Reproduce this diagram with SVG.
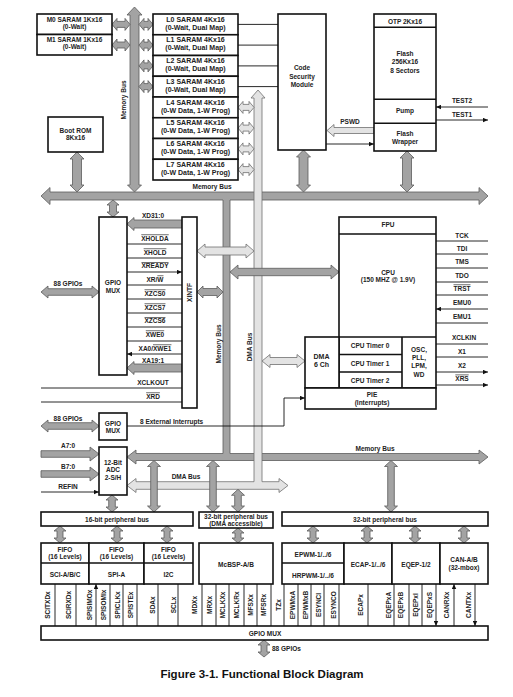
<svg xmlns="http://www.w3.org/2000/svg" width="513" height="697" viewBox="0 0 513 697">
<defs>
<style>
.b{fill:#fff;stroke:#111;stroke-width:1.6}
.n{fill:none;stroke:#111;stroke-width:1.6}
.g{fill:#a3a3a3;stroke:#5c5c5c;stroke-width:0.8}
.l{fill:#e3e3e3;stroke:#707070;stroke-width:0.8}
.w{stroke:#111;stroke-width:0.9;fill:none}
.e{marker-end:url(#ah)}
.d{marker-start:url(#ah);marker-end:url(#ah)}
text{font-family:"Liberation Sans",Arial,sans-serif;font-size:6.5px;font-weight:bold;fill:#222;text-anchor:middle}
.m{font-size:7px}
.s{text-anchor:start}
.o{text-decoration:overline}
.cap{font-size:11.5px;fill:#111}
</style>
<marker id="ah" viewBox="0 0 8 8" refX="8" refY="4" markerWidth="5" markerHeight="5" orient="auto-start-reverse" markerUnits="userSpaceOnUse"><path d="M0,0.5L8,4L0,7.5z" fill="#111"/></marker>
</defs>
<rect width="513" height="697" fill="#fff"/>
<g id="connectors">
<polygon class="g" points="41,196 50,187.5 50,192 479,192 479,187.5 488,196 479,204.5 479,200 230,200 230,453.5 479,453.5 479,450 488,457 479,464 479,460.5 136,460.5 136,464 127,457 136,450 136,453.5 223,453.5 223,200 50,200 50,204.5"/>
<polygon class="g" points="134.5,7 142,15 139,15 139,185 141.5,185 134.5,192 127.5,185 130,185 130,15 127,15"/>
<polygon class="g" points="77,152 84,159 81.5,159 81.5,185 84,185 77,192 70,185 72.5,185 72.5,159 70,159"/>
<polygon class="g" points="303.5,150 310.5,157 308,157 308,185 310.5,185 303.5,192 296.5,185 299,185 299,157 296.5,157"/>
<polygon class="g" points="407,151 414,158 411.5,158 411.5,185 414,185 407,192 400,185 402.5,185 402.5,158 400,158"/>
<polygon class="g" points="112,24.4 117,18.4 117,21.4 125,21.4 125,18.4 130,24.4 125,30.4 125,27.4 117,27.4 117,30.4"/>
<polygon class="g" points="112,45 117,39 117,42 125,42 125,39 130,45 125,51 125,48 117,48 117,51"/>
<polygon class="g" points="139,24.4 144,18.4 144,21.4 148,21.4 148,18.4 153,24.4 148,30.4 148,27.4 144,27.4 144,30.4"/>
<polygon class="g" points="139,45.1 144,39.1 144,42.1 148,42.1 148,39.1 153,45.1 148,51.1 148,48.1 144,48.1 144,51.1"/>
<polygon class="g" points="139,65.9 144,59.9 144,62.9 148,62.9 148,59.9 153,65.9 148,71.9 148,68.9 144,68.9 144,71.9"/>
<polygon class="g" points="139,86.6 144,80.6 144,83.6 148,83.6 148,80.6 153,86.6 148,92.6 148,89.6 144,89.6 144,92.6"/>
<polygon class="g" points="113,200 119,205 116.5,205 116.5,212 119,212 113,217 107,212 109.5,212 109.5,205 107,205"/>
<polygon class="g" points="41,292 48,286 48,288.7 92,288.7 92,286 99,292 92,298 92,295.3 48,295.3 48,298"/>
<polygon class="g" points="41,426 48,420 48,422.7 92,422.7 92,420 99,426 92,432 92,429.3 48,429.3 48,432"/>
<polygon class="g" points="127,224 134,217.5 134,220 182,220 182,228 134,228 134,230.5"/>
<polygon class="g" points="127,368 134,361.5 134,364 182,364 182,372 134,372 134,374.5"/>
<polygon class="g" points="197,292 203,286 203,288.5 217,288.5 217,286 223,292 217,298 217,295.5 203,295.5 203,298"/>
<polygon class="g" points="41,450.7 90,450.7 90,447 99,454 90,461 90,457.3 41,457.3"/>
<polygon class="g" points="41,470.7 90,470.7 90,467 99,474 90,481 90,477.3 41,477.3"/>
<polygon class="l" points="258,90 265,98 262,98 262,481.7 279,481.7 279,478.5 288,485.5 279,492.5 279,489.3 136,489.3 136,492.5 127,485.5 136,478.5 136,481.7 254,481.7 254,98 251,98"/>
<polygon class="l" points="238,107.4 243,101.4 243,104.4 249,104.4 249,101.4 254,107.4 249,113.4 249,110.4 243,110.4 243,113.4"/>
<polygon class="l" points="238,128.1 243,122.1 243,125.1 249,125.1 249,122.1 254,128.1 249,134.1 249,131.1 243,131.1 243,134.1"/>
<polygon class="l" points="238,148.9 243,142.9 243,145.9 249,145.9 249,142.9 254,148.9 249,154.9 249,151.9 243,151.9 243,154.9"/>
<polygon class="l" points="238,169.6 243,163.6 243,166.6 249,166.6 249,163.6 254,169.6 249,175.6 249,172.6 243,172.6 243,175.6"/>
<polygon class="l" points="197,251 205,244 205,247 246,247 246,244 254,251 246,258 246,255 205,255 205,258"/>
<polygon class="l" points="262,361 270,354.5 270,357.5 297,357.5 297,354.5 305,361 297,367.5 297,364.5 270,364.5 270,367.5"/>
<polygon class="l" points="327,130.5 334,124.5 334,127.5 374,127.5 374,133.5 334,133.5 334,136.5"/>
<polygon class="g" points="230,272 238,265 238,268.3 331,268.3 331,265 339,272 331,279 331,275.7 238,275.7 238,279"/>
<polygon class="g" points="112,495 118,500 115.3,500 115.3,507 118,507 112,512 106,507 108.7,507 108.7,500 106,500"/>
<polygon class="g" points="154,460.5 160.5,466.5 157.3,466.5 157.3,506 160.5,506 154,512 147.5,506 150.7,506 150.7,466.5 147.5,466.5"/>
<polygon class="g" points="213,460.5 219.5,466.5 216.3,466.5 216.3,506 219.5,506 213,512 206.5,506 209.7,506 209.7,466.5 206.5,466.5"/>
<polygon class="g" points="238,489.3 244.5,495.3 241.3,495.3 241.3,506 244.5,506 238,512 231.5,506 234.7,506 234.7,495.3 231.5,495.3"/>
<polygon class="g" points="391,460.5 397.5,466.5 394.3,466.5 394.3,506 397.5,506 391,512 384.5,506 387.7,506 387.7,466.5 384.5,466.5"/>
<polygon class="g" points="60,526 66,531 63,531 63,538 66,538 60,543 54,538 57,538 57,531 54,531"/>
<polygon class="g" points="117,526 123,531 120,531 120,538 123,538 117,543 111,538 114,538 114,531 111,531"/>
<polygon class="g" points="167,526 173,531 170,531 170,538 173,538 167,543 161,538 164,538 164,531 161,531"/>
<polygon class="g" points="238,528 244,533 241,533 241,538 244,538 238,543 232,538 235,538 235,533 232,533"/>
<polygon class="g" points="313,526 319,531 316,531 316,538 319,538 313,543 307,538 310,538 310,531 307,531"/>
<polygon class="g" points="367,526 373,531 370,531 370,538 373,538 367,543 361,538 364,538 364,531 361,531"/>
<polygon class="g" points="415,526 421,531 418,531 418,538 421,538 415,543 409,538 412,538 412,531 409,531"/>
<polygon class="g" points="464,526 470,531 467,531 467,538 470,538 464,543 458,538 461,538 461,531 458,531"/>
<polygon class="g" points="264,640 270,645 267,645 267,652 270,652 264,657 258,652 261,652 261,645 258,645"/>
<path class="w e" d="M278,24.4H238M278,45.1H238M278,65.9H238M278,86.6H238M326,144H374"/>
<path class="w d" d="M436,107H488M436,120H488"/>
<path class="w e" d="M127,244H182M127,258H182M127,272H182"/>
<path class="w e" d="M182,285H127M182,299H127M182,313H127M182,327H127M182,341H127M182,354H127"/>
<path class="w e" d="M182,388H41M182,402H41M41,492H99"/>
<path class="w e" d="M127,426H284V398H305"/>
<path class="w e" d="M488,241H436M488,254H436M488,268H436M436,282H488M488,295H436M488,344H436M488,357H436M436,372H488"/>
<path class="w d" d="M436,309H488M436,323H488M436,385H488"/>
<path class="w e" d="M55,626V584M76,626V584M284,626V584M324,626V584M368,626V584M394,626V584M409,626V584M454,626V584"/>
<path class="w e" d="M298,584V626M311,584V626M339,584V626M475,584V626"/>
<path class="w d" d="M96,584V626M110,584V626M123,584V626M137,584V626M158,584V626M178,584V626M202,584V626M216,584V626M229,584V626M244,584V626M257,584V626M271,584V626M422,584V626M436,584V626"/>
</g>
<g id="bus-labels">
<text transform="translate(125.5,100) rotate(-90)">Memory Bus</text>
<text x="212" y="188.5">Memory Bus</text>
<text transform="translate(220.5,344) rotate(-90)">Memory Bus</text>
<text transform="translate(251.5,347) rotate(-90)">DMA Bus</text>
<text x="375" y="450.5">Memory Bus</text>
<text x="186" y="478.5">DMA Bus</text>
<text x="350" y="124">PSWD</text>
<text x="462" y="102.5">TEST2</text>
<text x="462" y="116.5">TEST1</text>
<text x="68" y="285.5">88 GPIOs</text>
<text x="68" y="420.5">88 GPIOs</text>
<text x="68" y="447.5">A7:0</text>
<text x="68" y="468.5">B7:0</text>
<text x="68" y="488.5">REFIN</text>
<text class="s" x="140" y="423.5">8 External Interrupts</text>
<text x="153" y="217.5">XD31:0</text>
<text x="155" y="240.5" class="o">XHOLDA</text>
<text x="155" y="254.5" class="o">XHOLD</text>
<text x="155" y="268" class="o">XREADY</text>
<text x="155" y="281.5">XR/<tspan class="o">W</tspan></text>
<text x="155" y="295.5" class="o">XZCS0</text>
<text x="155" y="309.5" class="o">XZCS7</text>
<text x="155" y="323" class="o">XZCS6</text>
<text x="155" y="336.5" class="o">XWE0</text>
<text x="155" y="350.5">XA0/<tspan class="o">XWE1</tspan></text>
<text x="153" y="362.5">XA19:1</text>
<text x="153" y="384.5">XCLKOUT</text>
<text x="153" y="398.5" class="o">XRD</text>
<text x="462" y="237.5">TCK</text>
<text x="462" y="250.5">TDI</text>
<text x="462" y="263.5">TMS</text>
<text x="462" y="277.5">TDO</text>
<text x="462" y="290.5" class="o">TRST</text>
<text x="462" y="304.5">EMU0</text>
<text x="462" y="318.5">EMU1</text>
<text x="464" y="339.5">XCLKIN</text>
<text x="462" y="354">X1</text>
<text x="462" y="368">X2</text>
<text x="462" y="380.6" class="o">XRS</text>
<text class="s" x="272" y="650.5">88 GPIOs</text>
<g id="pin-labels">
<text transform="translate(49.5,605) rotate(-90)">SCITXDx</text>
<text transform="translate(70.5,605) rotate(-90)">SCIRXDx</text>
<text transform="translate(91.5,605) rotate(-90)">SPISIMOx</text>
<text transform="translate(105.5,605) rotate(-90)">SPISOMIx</text>
<text transform="translate(119.5,605) rotate(-90)">SPICLKx</text>
<text transform="translate(132.5,605) rotate(-90)">SPISTEx</text>
<text transform="translate(154.5,605) rotate(-90)">SDAx</text>
<text transform="translate(175.5,605) rotate(-90)">SCLx</text>
<text transform="translate(196.5,605) rotate(-90)">MDXx</text>
<text transform="translate(211.5,605) rotate(-90)">MRXx</text>
<text transform="translate(224.5,605) rotate(-90)">MCLKXx</text>
<text transform="translate(238.5,605) rotate(-90)">MCLKRx</text>
<text transform="translate(252.5,605) rotate(-90)">MFSXx</text>
<text transform="translate(265.5,605) rotate(-90)">MFSRx</text>
<text transform="translate(280.5,605) rotate(-90)">TZx</text>
<text transform="translate(294.5,605) rotate(-90)">EPWMxA</text>
<text transform="translate(307.5,605) rotate(-90)">EPWMxB</text>
<text transform="translate(320.5,605) rotate(-90)">ESYNCI</text>
<text transform="translate(335.5,605) rotate(-90)">ESYNCO</text>
<text transform="translate(362.5,605) rotate(-90)">ECAPx</text>
<text transform="translate(390.5,605) rotate(-90)">EQEPxA</text>
<text transform="translate(402.5,605) rotate(-90)">EQEPxB</text>
<text transform="translate(417.5,605) rotate(-90)">EQEPxI</text>
<text transform="translate(431.5,605) rotate(-90)">EQEPxS</text>
<text transform="translate(448.5,605) rotate(-90)">CANRXx</text>
<text transform="translate(470.5,605) rotate(-90)">CANTXx</text>
</g>
</g>
<g id="m0"><rect class="b" x="37" y="14" width="75" height="20.5"/><text x="74.5" y="21.6">M0 SARAM 1Kx16</text><text x="74.5" y="28.6">(0-Wait)</text></g>
<g id="m1"><rect class="b" x="37" y="34.5" width="75" height="20.5"/><text x="74.5" y="42.3">M1 SARAM 1Kx16</text><text x="74.5" y="49.3">(0-Wait)</text></g>
<g id="l0"><rect class="b" x="153" y="14" width="85" height="20.75"/><text class="m" x="195.5" y="21.6">L0 SARAM 4Kx16</text><text class="m" x="195.5" y="29.6">(0-Wait, Dual Map)</text></g>
<g id="l1"><rect class="b" x="153" y="34.75" width="85" height="20.75"/><text class="m" x="195.5" y="42.35">L1 SARAM 4Kx16</text><text class="m" x="195.5" y="50.35">(0-Wait, Dual Map)</text></g>
<g id="l2"><rect class="b" x="153" y="55.5" width="85" height="20.75"/><text class="m" x="195.5" y="63.1">L2 SARAM 4Kx16</text><text class="m" x="195.5" y="71.1">(0-Wait, Dual Map)</text></g>
<g id="l3"><rect class="b" x="153" y="76.25" width="85" height="20.75"/><text class="m" x="195.5" y="83.85">L3 SARAM 4Kx16</text><text class="m" x="195.5" y="91.85">(0-Wait, Dual Map)</text></g>
<g id="l4"><rect class="b" x="153" y="97" width="85" height="20.75"/><text class="m" x="195.5" y="104.6">L4 SARAM 4Kx16</text><text class="m" x="195.5" y="112.6">(0-W Data, 1-W Prog)</text></g>
<g id="l5"><rect class="b" x="153" y="117.75" width="85" height="20.75"/><text class="m" x="195.5" y="125.35">L5 SARAM 4Kx16</text><text class="m" x="195.5" y="133.35">(0-W Data, 1-W Prog)</text></g>
<g id="l6"><rect class="b" x="153" y="138.5" width="85" height="20.75"/><text class="m" x="195.5" y="146.1">L6 SARAM 4Kx16</text><text class="m" x="195.5" y="154.1">(0-W Data, 1-W Prog)</text></g>
<g id="l7"><rect class="b" x="153" y="159.25" width="85" height="20.75"/><text class="m" x="195.5" y="166.85">L7 SARAM 4Kx16</text><text class="m" x="195.5" y="174.85">(0-W Data, 1-W Prog)</text></g>
<g id="csm"><rect class="b" x="278" y="14" width="48" height="136"/><text x="302" y="70">Code</text><text x="302" y="78.5">Security</text><text x="302" y="87">Module</text></g>
<g id="flash"><rect class="b" x="374" y="14" width="62" height="137"/><path class="n" d="M374,27.3H436M374,99.3H436M374,123.3H436"/><text x="405" y="24">OTP 2Kx16</text><text x="405" y="55.5">Flash</text><text x="405" y="64">256Kx16</text><text x="405" y="72.5">8 Sectors</text><text x="405" y="113">Pump</text><text x="405" y="135.5">Flash</text><text x="405" y="144">Wrapper</text></g>
<g id="bootrom"><rect class="b" x="48" y="117" width="55" height="35"/><text x="75.5" y="132.5">Boot ROM</text><text x="75.5" y="140">8Kx16</text></g>
<g id="gpiomux1"><rect class="b" x="99" y="217" width="28" height="158"/><text x="113" y="284.5">GPIO</text><text x="113" y="292.5">MUX</text></g>
<g id="xintf"><rect class="b" x="182" y="217" width="15" height="191"/><text transform="translate(192,292.5) rotate(-90)">XINTF</text></g>
<g id="cpu"><rect class="b" x="339" y="217" width="97" height="171"/><path class="n" d="M339,234H436M339,337H436M402,337V388M339,354.5H402M339,372H402"/><text x="388" y="226.5">FPU</text><text x="388" y="275">CPU</text><text x="388" y="282">(150 MHZ @ 1.9V)</text><text x="370" y="347.5">CPU Timer 0</text><text x="370" y="365.5">CPU Timer 1</text><text x="370" y="383">CPU Timer 2</text><text x="419" y="351.5">OSC,</text><text x="419" y="359.8">PLL,</text><text x="419" y="368.2">LPM,</text><text x="419" y="376.5">WD</text></g>
<g id="dma"><rect class="b" x="305" y="337" width="34" height="51"/><text class="m" x="321.5" y="359.2">DMA</text><text class="m" x="321.5" y="366.8">6 Ch</text></g>
<g id="pie"><rect class="b" x="305" y="388" width="131" height="21"/><text x="372" y="396.5">PIE</text><text x="372" y="404.5">(Interrupts)</text></g>
<g id="gpiomux2"><rect class="b" x="99" y="413" width="28" height="27"/><text x="113" y="425.5">GPIO</text><text x="113" y="432.5">MUX</text></g>
<g id="adc"><rect class="b" x="99" y="447" width="28" height="48"/><text x="113" y="464.5">12-Bit</text><text x="113" y="471.5">ADC</text><text x="113" y="479.5">2-S/H</text></g>
<g id="pbus16"><rect class="b" x="41" y="512" width="152" height="14"/><text x="117" y="521.5">16-bit peripheral bus</text></g>
<g id="pbus32dma"><rect class="b" x="199" y="512" width="74" height="16"/><text x="236" y="518.5">32-bit peripheral bus</text><text x="236" y="525.8">(DMA accessible)</text></g>
<g id="pbus32"><rect class="b" x="282" y="512" width="206" height="14"/><text x="385" y="521.5">32-bit peripheral bus</text></g>
<g id="sci"><rect class="b" x="41" y="543" width="48" height="41"/><path class="n" d="M41,563H89"/><text x="65" y="551.5">FIFO</text><text x="65" y="558.5">(16 Levels)</text><text x="65" y="576.5">SCI-A/B/C</text></g>
<g id="spi"><rect class="b" x="89" y="543" width="55" height="41"/><path class="n" d="M89,563H144"/><text x="116.5" y="551.5">FIFO</text><text x="116.5" y="558.5">(16 Levels)</text><text x="116.5" y="576.5">SPI-A</text></g>
<g id="i2c"><rect class="b" x="144" y="543" width="49" height="41"/><path class="n" d="M144,563H193"/><text x="168.5" y="551.5">FIFO</text><text x="168.5" y="558.5">(16 Levels)</text><text x="168.5" y="576.5">I2C</text></g>
<g id="mcbsp"><rect class="b" x="199" y="543" width="74" height="41"/><text x="236" y="566.5">McBSP-A/B</text></g>
<g id="epwm"><rect class="b" x="282" y="543" width="62" height="41"/><path class="n" d="M282,563H344"/><text x="313" y="556.5">EPWM-1/../6</text><text x="313" y="577.5">HRPWM-1/../6</text></g>
<g id="ecap"><rect class="b" x="344" y="543" width="48" height="41"/><text x="368" y="566.5">ECAP-1/../6</text></g>
<g id="eqep"><rect class="b" x="392" y="543" width="48" height="41"/><text x="416" y="566.5">EQEP-1/2</text></g>
<g id="can"><rect class="b" x="440" y="543" width="48" height="41"/><text x="464" y="561.5">CAN-A/B</text><text x="464" y="570">(32-mbox)</text></g>
<g id="gpiomux3"><rect class="b" x="41" y="626" width="447" height="14"/><text x="265" y="635.5">GPIO MUX</text></g>
<text class="cap" x="262" y="678">Figure 3-1. Functional Block Diagram</text>
</svg>
